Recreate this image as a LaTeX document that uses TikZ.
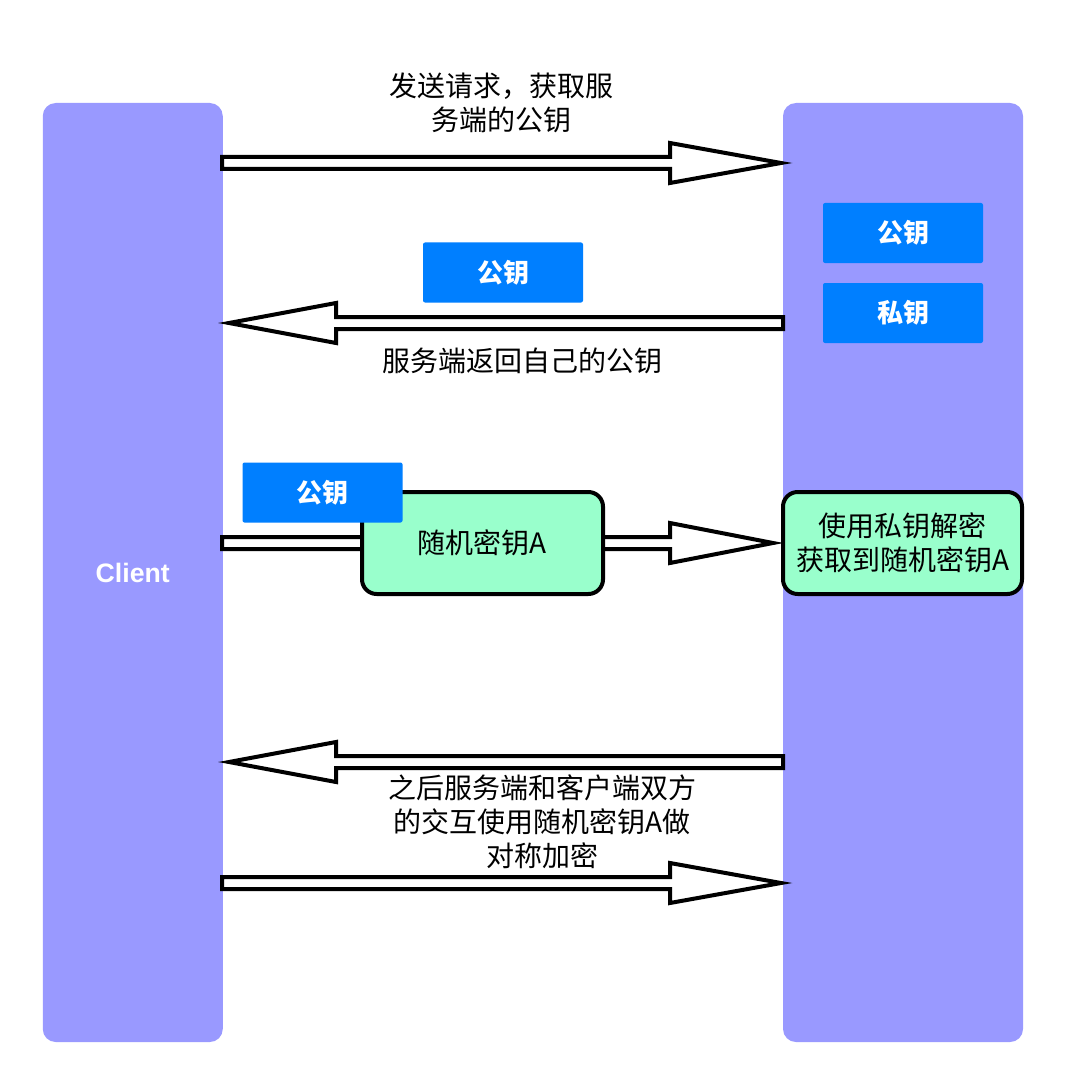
\documentclass[tikz,border=0pt]{standalone}
\usepackage{fontspec}
\setmainfont{Liberation Sans}
\newfontfamily\cjk{Noto Sans CJK SC}
\definecolor{barcol}{HTML}{9999FF}
\definecolor{keycol}{HTML}{007FFF}
\definecolor{greencol}{HTML}{99FFCC}
\tikzset{
  bar/.style={fill=barcol, draw=none, rounded corners=9.75pt, inner sep=0pt},
  keybox/.style={fill=keycol, draw=none, rounded corners=1.5pt, minimum width=120pt, minimum height=45pt, inner sep=0pt, text=white, font=\cjk\bfseries\fontsize{19.5}{23}\selectfont},
  greenbox/.style={fill=greencol, draw=black, line width=3pt, rounded corners=11pt, inner sep=0pt, align=center, font=\cjk\fontsize{21}{25.5}\selectfont},
  lbl/.style={align=center, inner sep=0pt, font=\cjk\fontsize{21}{25.5}\selectfont},
  barrow/.style={draw=black, fill=white, line width=3pt, line join=miter, miter limit=20},
}
\newcommand\blockarr[4]{%
  \draw[barrow] (#1,#4-6) -- (#2,#4-6) -- (#2,#4-20) -- (#3,#4) -- (#2,#4+20) -- (#2,#4+6) -- (#1,#4+6) -- cycle;}
\begin{document}
\begin{tikzpicture}[x=0.75pt,y=-0.75pt]
\useasboundingbox[fill=white] (0,0) rectangle (1064,1084);
% bars
\node[bar, minimum width=135pt, minimum height=704.25pt, text=white, font=\bfseries\fontsize{20}{24}\selectfont] (client) at (132.75,572.5) {Client};
\node[bar, minimum width=180pt, minimum height=704.25pt] (server) at (903,572.5) {};
% server keys
\node[keybox] (spub) at (903,233) {公钥};
\node[keybox] (spriv) at (903,313) {私钥};
% arrow 1
\blockarr{222}{670}{781}{163}
\node[lbl] (t1) at (501,103) {发送请求，获取服\\务端的公钥};
% arrow 2
\node[keybox] (mpub) at (503,272.5) {公钥};
\blockarr{783}{336}{229}{323}
\node[lbl] (t2) at (522,361) {服务端返回自己的公钥};
% arrow 3
\blockarr{222}{670}{773}{543}
\node[greenbox, minimum width=180.75pt, minimum height=76.5pt] (rk) at (482.5,543) {随机密钥A};
\node[keybox] (cpub) at (322.5,492.5) {公钥};
\node[greenbox, minimum width=179.25pt, minimum height=76.5pt] (dec) at (902.5,543) {使用私钥解密\\获取到随机密钥A};
% arrow 4 and 5
\blockarr{783}{336}{229}{762}
\node[lbl] (t3) at (542,822) {之后服务端和客户端双方\\的交互使用随机密钥A做\\对称加密};
\blockarr{222}{670}{781}{883}
\end{tikzpicture}
\end{document}
